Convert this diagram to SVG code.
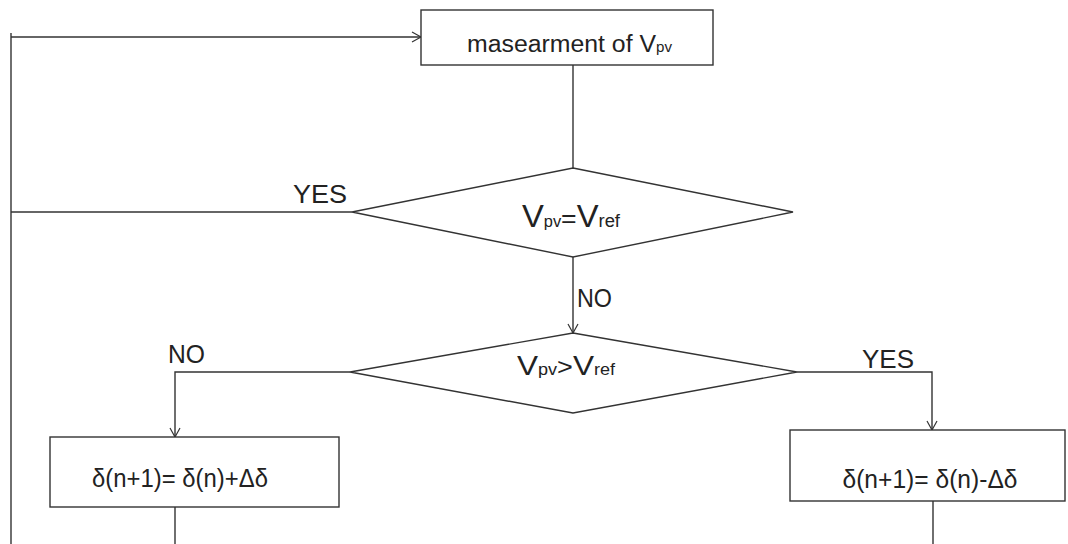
<svg xmlns="http://www.w3.org/2000/svg" width="1068" height="544" viewBox="0 0 1068 544">
<defs>
<marker id="arr" markerWidth="12" markerHeight="12" refX="10" refY="6" orient="auto" markerUnits="userSpaceOnUse">
<path d="M1,1 L10,6 L1,11" fill="none" stroke="#333" stroke-width="1.2"/>
</marker>
</defs>
<style>
.shape{fill:#fff;stroke:#333;stroke-width:1.4}
.line{fill:none;stroke:#333;stroke-width:1.4}
text{font-family:"Liberation Sans",Arial,sans-serif;fill:#222}
.lbl{font-size:26px}
</style>
<rect width="1068" height="544" fill="#fff"/>
<g id="connectors">
<polyline class="line" points="11,544 11,33"/>
<polyline class="line" points="11,37 421,37" marker-end="url(#arr)"/>
<polyline class="line" points="11,212 352,212"/>
<polyline class="line" points="573,65 573,168"/>
<polyline class="line" points="573,257 573,333" marker-end="url(#arr)"/>
<polyline class="line" points="350,372 175,372 175,437" marker-end="url(#arr)"/>
<polyline class="line" points="797,372 932,372 932,430" marker-end="url(#arr)"/>
<polyline class="line" points="175,507 175,544"/>
<polyline class="line" points="933,501 933,544"/>
<text class="lbl" x="293" y="203" textLength="54" lengthAdjust="spacingAndGlyphs">YES</text>
<text class="lbl" x="577" y="307" textLength="35" lengthAdjust="spacingAndGlyphs">NO</text>
<text class="lbl" x="168" y="363" textLength="37" lengthAdjust="spacingAndGlyphs">NO</text>
<text class="lbl" x="862" y="368" textLength="52" lengthAdjust="spacingAndGlyphs">YES</text>
</g>
<g id="measure">
<rect class="shape" x="421" y="10" width="292" height="55"/>
<text x="467" y="52" font-size="23" textLength="205" lengthAdjust="spacingAndGlyphs">masearment of V<tspan font-size="14">pv</tspan></text>
</g>
<g id="decision1">
<polygon class="shape" points="573,168 793,212 573,257 352,212"/>
<text x="522" y="227" font-size="32" textLength="98" lengthAdjust="spacingAndGlyphs">V<tspan font-size="16">pv</tspan><tspan font-size="26">=</tspan>V<tspan font-size="18">ref</tspan></text>
</g>
<g id="decision2">
<polygon class="shape" points="573,333 797,372 573,413 350,372"/>
<text x="517" y="375" font-size="28" textLength="98" lengthAdjust="spacingAndGlyphs">V<tspan font-size="16">pv</tspan><tspan font-size="24">&gt;</tspan>V<tspan font-size="16">ref</tspan></text>
</g>
<g id="increase">
<rect class="shape" x="50" y="437" width="289" height="70"/>
<text x="180" y="487" font-size="25" text-anchor="middle" textLength="176" lengthAdjust="spacingAndGlyphs">δ(n+1)= δ(n)+Δδ</text>
</g>
<g id="decrease">
<rect class="shape" x="790" y="430" width="275" height="71"/>
<text x="930" y="488" font-size="25" text-anchor="middle" textLength="175" lengthAdjust="spacingAndGlyphs">δ(n+1)= δ(n)-Δδ</text>
</g>
</svg>
